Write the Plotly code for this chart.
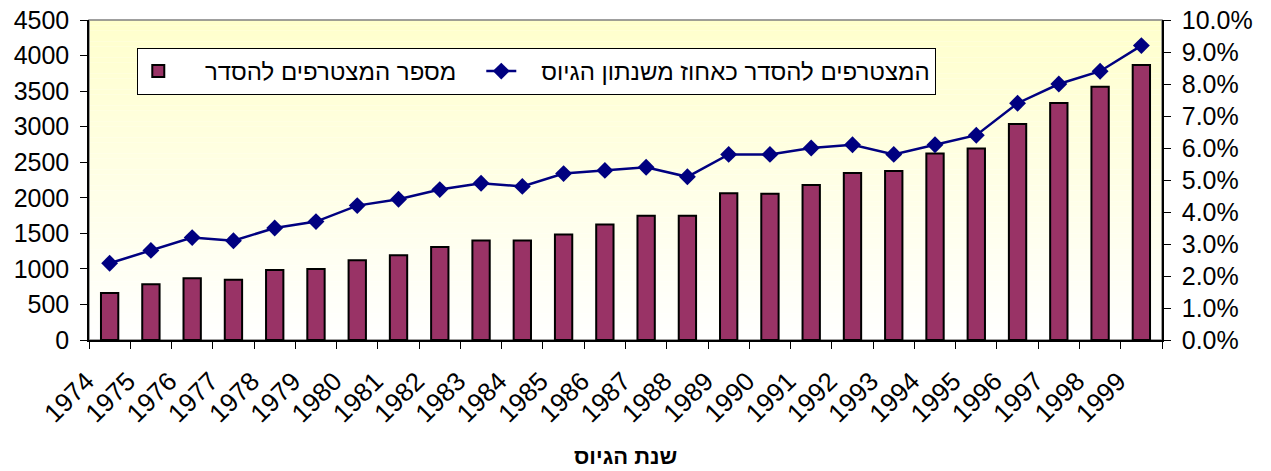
import plotly.graph_objects as go

years = [str(y) for y in range(1974, 2000)]
joined = [660, 785, 868, 848, 984, 998, 1120, 1192, 1308, 1398, 1398, 1482, 1624, 1746, 1748,
          2064, 2055, 2180, 2348, 2378, 2622, 2692, 3037, 3333, 3560, 3867]
pct = [0.024, 0.028, 0.032, 0.031, 0.035, 0.037, 0.042, 0.044, 0.047, 0.049, 0.048, 0.052,
       0.053, 0.054, 0.051, 0.058, 0.058, 0.060, 0.061, 0.058, 0.061, 0.064, 0.074, 0.080,
       0.084, 0.092]

bar_name = "מספר המצטרפים להסדר"
line_name = "המצטרפים להסדר כאחוז משנתון הגיוס"
x_title = "שנת הגיוס"

FONT = "Arial, Liberation Sans, sans-serif"
NB = "\u00a0"

fig = go.Figure()
fig.add_trace(go.Bar(
    x=years, y=joined, name=NB * 4 + bar_name + NB * 3, width=0.42,
    marker=dict(color="#993366", line=dict(color="black", width=2)),
))
fig.add_trace(go.Scatter(
    x=years, y=pct, name=NB * 3 + line_name, yaxis="y2", mode="lines+markers",
    line=dict(color="#000080", width=2.5),
    marker=dict(symbol="diamond", size=13, color="#000080"),
))

# gradient background (light yellow top -> white bottom)
shapes = []
N = 60
for i in range(N):
    t = (i + 0.5) / N
    b = int(round(255 - 51 * t))
    shapes.append(dict(type="rect", xref="paper", yref="paper", x0=0, x1=1,
                       y0=i / N, y1=(i + 1) / N, fillcolor=f"rgb(255,255,{b})",
                       line=dict(width=0), layer="below"))
shapes.append(dict(type="rect", xref="paper", yref="paper", x0=0, x1=1, y0=0, y1=1,
                   line=dict(color="#808080", width=1.5), layer="below"))

fig.update_layout(
    width=1271, height=471,
    margin=dict(l=89, r=109, t=20, b=131),
    paper_bgcolor="white", plot_bgcolor="rgba(0,0,0,0)",
    font=dict(family=FONT, color="black", size=25),
    shapes=shapes,
    showlegend=True,
    legend=dict(orientation="h", x=0.045, y=0.9125, xanchor="left", yanchor="top",
                bgcolor="white", bordercolor="black", borderwidth=1,
                font=dict(size=24, family=FONT), itemwidth=30, tracegroupgap=0),
    annotations=[dict(text=f"<b>{x_title}</b>", xref="paper", yref="paper", x=0.5, y=-0.365,
                      xanchor="center", yanchor="middle", showarrow=False,
                      font=dict(size=22, family=FONT))],
    xaxis=dict(type="category", tickangle=-45, tickson="boundaries", ticks="outside",
               ticklen=7, tickcolor="black", showline=True, linecolor="black", linewidth=1.5,
               showgrid=False, tickfont=dict(size=26, family=FONT), automargin=False,
               ticklabelshift=-23, ticklabelstandoff=14, ticklabeloverflow="allow",
               range=[-0.5, 25.5]),
    xaxis2=dict(overlaying="x", anchor="y", side="bottom", range=[1973.5, 1999.5],
                tick0=1973.5, dtick=1, ticks="inside", ticklen=7, tickcolor="black",
                showticklabels=False, showline=False, showgrid=False, zeroline=False,
                automargin=False),
    yaxis=dict(range=[0, 4500], dtick=500, ticks="outside", ticklen=7, tickcolor="black",
               showline=True, linecolor="black", linewidth=1.5, showgrid=False,
               zeroline=False, tickfont=dict(size=25, family=FONT), automargin=False,
               ticklabelstandoff=6, ticklabeloverflow="allow"),
    yaxis2=dict(overlaying="y", side="right", range=[0, 0.10], dtick=0.01,
                tickformat=".1%", ticks="outside", ticklen=7, tickcolor="black",
                showline=True, linecolor="black", linewidth=1.5, showgrid=False,
                zeroline=False, tickfont=dict(size=25, family=FONT), automargin=False,
                ticklabelstandoff=6, ticklabeloverflow="allow"),
    bargap=0.5,
)

fig.write_html("out.html", config={"displayModeBar": False},
               post_script="document.body.style.margin='0';document.body.style.overflow='hidden';")
